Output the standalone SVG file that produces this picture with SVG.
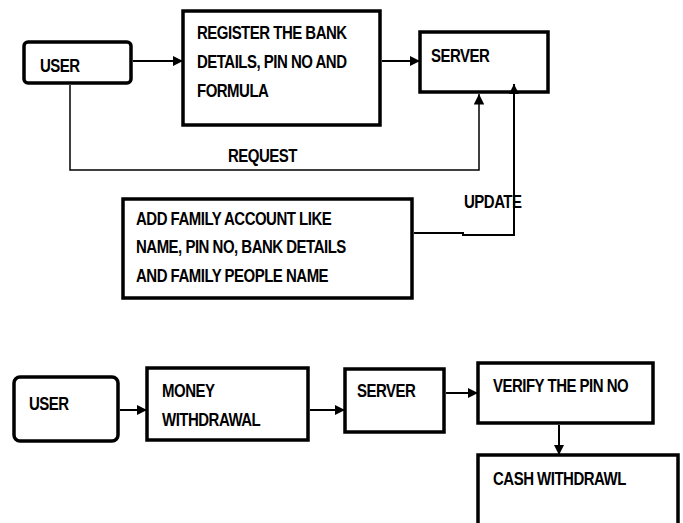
<svg xmlns="http://www.w3.org/2000/svg" width="683" height="523" viewBox="0 0 683 523">
<style>
.box{fill:#fff;stroke:#000;stroke-width:3.5}
.t{font-family:"Liberation Sans",Arial,sans-serif;font-weight:bold;font-size:15px;fill:#000;letter-spacing:-0.5px}
.c{fill:none;stroke:#000;stroke-width:2}
.thin{fill:none;stroke:#000;stroke-width:1.5}
</style>
<defs>
<marker id="ah" viewBox="0 0 10 10" refX="10" refY="5" markerWidth="5" markerHeight="5" markerUnits="strokeWidth" orient="auto">
<path d="M0,0 L10,5 L0,10 z" fill="#000"/>
</marker>
<marker id="ah2" viewBox="0 0 10 10" refX="10" refY="5" markerWidth="7" markerHeight="7" markerUnits="strokeWidth" orient="auto">
<path d="M0,0 L10,5 L0,10 z" fill="#000"/>
</marker>
</defs>
<g id="user1">
<rect class="box" x="24" y="42" width="107" height="41" rx="4" stroke-width="3"/>
<text class="t" transform="translate(40,72) scale(1,1.2)">USER</text>
</g>
<g id="register">
<rect class="box" x="183" y="11" width="197" height="114" stroke-width="2.5"/>
<text class="t" transform="translate(197,39) scale(1,1.2)">REGISTER THE BANK</text>
<text class="t" transform="translate(197,68) scale(1,1.2)">DETAILS, PIN NO AND</text>
<text class="t" transform="translate(197,97) scale(1,1.2)">FORMULA</text>
</g>
<g id="server1">
<rect class="box" x="420" y="32" width="128" height="60" stroke-width="4"/>
<text class="t" transform="translate(431,62) scale(1,1.2)">SERVER</text>
</g>
<g id="family">
<rect class="box" x="123" y="199" width="289" height="99" stroke-width="4"/>
<text class="t" transform="translate(136,225) scale(1,1.2)">ADD FAMILY ACCOUNT LIKE</text>
<text class="t" transform="translate(136,253) scale(1,1.2)">NAME, PIN NO, BANK DETAILS</text>
<text class="t" transform="translate(136,282) scale(1,1.2)">AND FAMILY PEOPLE NAME</text>
</g>
<g id="user2">
<rect class="box" x="14" y="377" width="104" height="64" rx="6"/>
<text class="t" transform="translate(29,410) scale(1,1.2)">USER</text>
</g>
<g id="money">
<rect class="box" x="147" y="368" width="161" height="72"/>
<text class="t" transform="translate(162,397) scale(1,1.2)">MONEY</text>
<text class="t" transform="translate(162,426) scale(1,1.2)">WITHDRAWAL</text>
</g>
<g id="server2">
<rect class="box" x="345" y="369" width="99" height="63"/>
<text class="t" transform="translate(357,397) scale(1,1.2)">SERVER</text>
</g>
<g id="verify">
<rect class="box" x="478" y="363" width="175" height="60"/>
<text class="t" transform="translate(493,392) scale(1,1.2)">VERIFY THE PIN NO</text>
</g>
<g id="cash">
<rect class="box" x="478" y="455" width="200" height="80"/>
<text class="t" transform="translate(493,485) scale(1,1.2)">CASH WITHDRAWL</text>
</g>
<g id="connectors">
<line class="c" x1="133" y1="61" x2="183" y2="61" marker-end="url(#ah)" stroke-width="2.5"/>
<line class="c" x1="382" y1="61" x2="420" y2="61" marker-end="url(#ah)"/>
<path class="thin" d="M70,85 V170 H479 V94" marker-end="url(#ah2)"/>
<path class="c" d="M414,233 H463 V235 H514 V84" marker-end="url(#ah)"/>
<line class="c" x1="120" y1="410" x2="147" y2="410" marker-end="url(#ah)"/>
<line class="c" x1="310" y1="410" x2="345" y2="410" marker-end="url(#ah)"/>
<line class="c" x1="446" y1="393" x2="478" y2="393" marker-end="url(#ah)"/>
<line class="c" x1="559" y1="425" x2="559" y2="455" marker-end="url(#ah)"/>
<text class="t" transform="translate(228,162) scale(1,1.2)">REQUEST</text>
<text class="t" transform="translate(464,208) scale(1,1.2)">UPDATE</text>
</g>
</svg>
